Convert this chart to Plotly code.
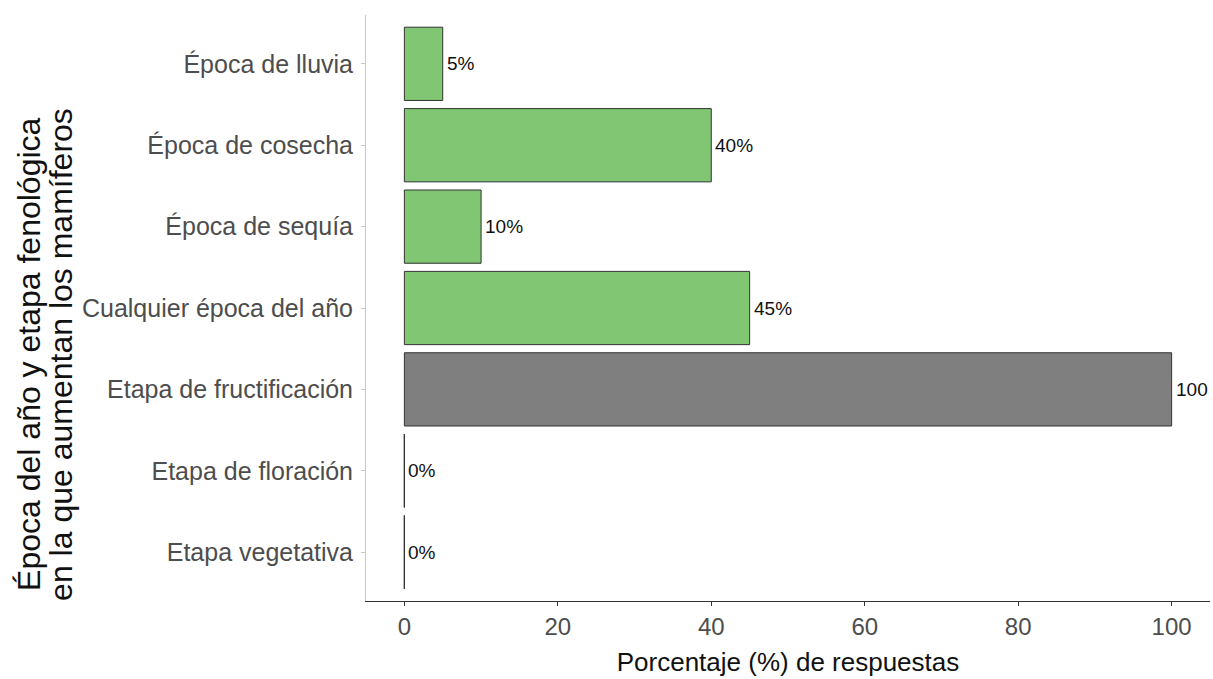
import plotly.graph_objects as go

# datos (de arriba hacia abajo)
categorias = ["Época de lluvia", "Época de cosecha", "Época de sequía",
              "Cualquier época del año", "Etapa de fructificación",
              "Etapa de floración", "Etapa vegetativa"]
grupo = ["Época", "Época", "Época", "Época", "Etapa", "Etapa", "Etapa"]
porcentaje = [5, 40, 10, 45, 100, 0, 0]
etiquetas = ["5%", "40%", "10%", "45%", "100", "0%", "0%"]
ticks_x = [0, 20, 40, 60, 80, 100]

colores = {"Época": "#80c673", "Etapa": "#7f7f7f"}
borde = "#333333"
fuente = "Liberation Sans, Arial, sans-serif"
ancho = 0.9

pos = list(range(len(categorias)))

fig = go.Figure()

fig.add_trace(go.Bar(
    x=porcentaje,
    y=pos,
    orientation="h",
    width=ancho,
    marker=dict(color=[colores[g] for g in grupo],
                line=dict(color=borde, width=1)),
    hoverinfo="x+y",
    showlegend=False,
))

# las barras de 0% solo se ven como su borde
xs, ys = [], []
for p, v in zip(pos, porcentaje):
    if v == 0:
        xs += [v, v, None]
        ys += [p - ancho / 2, p + ancho / 2, None]
fig.add_trace(go.Scatter(
    x=xs, y=ys, mode="lines",
    line=dict(color=borde, width=1),
    hoverinfo="skip", showlegend=False,
))

# etiquetas de valor a la derecha de cada barra
notas = []
for p, v, t in zip(pos, porcentaje, etiquetas):
    notas.append(dict(x=v, y=p, xref="x", yref="y", text=t,
                      xanchor="left", yanchor="middle", xshift=2,
                      showarrow=False,
                      font=dict(family=fuente, size=19, color="#111111")))

# titulo del eje y en dos lineas
titulo_y = ["Época del año y etapa fenológica",
            "en la que aumentan los mamíferos"]
for i, linea in enumerate(titulo_y):
    notas.append(dict(text=linea, textangle=-90,
                      xref="paper", yref="paper",
                      x=(29 + 32 * i - 366) / 844, y=0.42,
                      xanchor="center", yanchor="middle", showarrow=False,
                      font=dict(family=fuente, size=32, color="#111111")))

fig.update_layout(
    width=1213, height=679,
    margin=dict(l=366, r=3, t=15, b=78),
    paper_bgcolor="white", plot_bgcolor="white",
    font=dict(family=fuente),
    xaxis=dict(
        range=[-5, 105], tickvals=ticks_x, automargin=False,
        showgrid=False, zeroline=False,
        showline=True, linecolor="#333333", linewidth=1,
        ticks="outside", ticklen=4, tickcolor="#333333",
        tickfont=dict(size=24, color="#4d4d4d"),
        title=dict(text="Porcentaje (%) de respuestas",
                   font=dict(size=26, color="#111111"), standoff=14),
    ),
    yaxis=dict(
        range=[len(categorias) - 0.4, -0.6],
        tickvals=pos, ticktext=categorias, automargin=False,
        showgrid=False, zeroline=False,
        showline=True, linecolor="#c8c8c8", linewidth=1,
        ticks="outside", ticklen=4, tickcolor="#c8c8c8",
        ticklabelstandoff=3,
        tickfont=dict(size=25, color="#4d4d4d"),
    ),
    annotations=notas,
)

# sin el margen por defecto del body para que la figura quepa en la ventana
fig.write_html("out.html", config={"displayModeBar": False},
               post_script="document.body.style.margin='0';"
                           "document.body.style.overflow='hidden';")
